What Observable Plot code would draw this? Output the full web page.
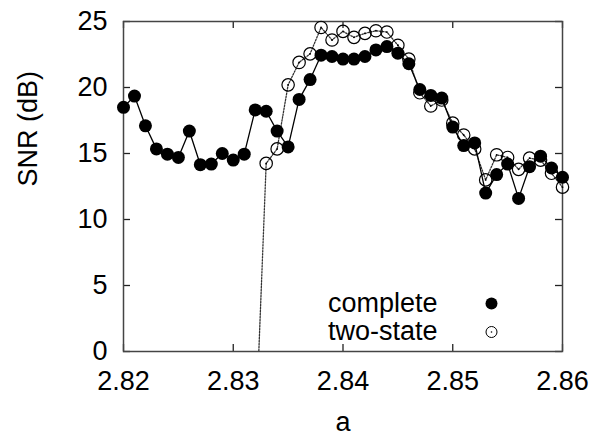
<!DOCTYPE html>
<html><head><meta charset="utf-8">
<script src="https://cdn.jsdelivr.net/npm/d3@7"></script>
<script src="https://cdn.jsdelivr.net/npm/@observablehq/plot@0.6"></script>
<style>body{margin:0;background:#fff}</style>
</head><body><div id="chart"></div>
<script>
const aComplete = [2.820,2.821,2.822,2.823,2.824,2.825,2.826,2.827,2.828,2.829,2.830,2.831,2.832,2.833,2.834,2.835,2.836,2.837,2.838,2.839,2.840,2.841,2.842,2.843,2.844,2.845,2.846,2.847,2.848,2.849,2.850,2.851,2.852,2.853,2.854,2.855,2.856,2.857,2.858,2.859,2.860];
const snrComplete = [18.5,19.35,17.1,15.35,14.95,14.7,16.7,14.15,14.2,15.0,14.5,14.95,18.3,18.2,16.7,15.5,19.1,20.6,22.45,22.35,22.15,22.15,22.35,22.85,23.1,22.6,21.8,19.85,19.4,19.2,17.0,15.6,15.8,12.0,13.4,14.2,11.6,14.0,14.8,13.9,13.2];
const aTwoState = [2.832,2.833,2.834,2.835,2.836,2.837,2.838,2.839,2.840,2.841,2.842,2.843,2.844,2.845,2.846,2.847,2.848,2.849,2.850,2.851,2.852,2.853,2.854,2.855,2.856,2.857,2.858,2.859,2.860];
const snrTwoState = [-7,14.25,15.35,20.2,21.9,22.55,24.55,23.6,24.25,23.8,24.1,24.3,24.2,23.2,22.15,19.6,18.6,19.05,17.3,16.4,15.35,13.0,14.9,14.7,13.8,14.65,14.5,13.5,12.45];
const xTicks = [2.82,2.83,2.84,2.85,2.86];
const yTicks = [0,5,10,15,20,25];
const seriesNames = ["complete","two-state"];

const complete = aComplete.map((a,i)=>({a, snr: snrComplete[i]}));
const twoState = aTwoState.map((a,i)=>({a, snr: snrTwoState[i]}));
const twoStateVisible = twoState.filter(d => d.snr >= 0);

const font = "'Liberation Sans', Arial, sans-serif";
const fs = 27;
const W = 595, H = 439, mL = 123, mR = 33, mT = 21, mB = 88;
const pw = W - mL - mR, ph = H - mT - mB, tk = 7;

const chart = Plot.plot({
  width: W, height: H,
  marginLeft: mL, marginRight: mR, marginTop: mT, marginBottom: mB,
  style: {fontFamily: font, fontSize: fs + "px", color: "#000", background: "#fff"},
  x: {domain: [2.82, 2.86]},
  y: {domain: [0, 25]},
  marks: [
    Plot.axisX({anchor: "bottom", ticks: xTicks, tickFormat: d3.format(".2f"), tickSize: 0, tickPadding: 19, label: null, fontSize: fs}),
    Plot.axisY({anchor: "left", ticks: yTicks, tickSize: 0, tickPadding: 16, label: null, fontSize: fs}),
    // inward mirrored ticks
    Plot.tickX(xTicks, {x: d => d, insetTop: ph - tk, stroke: "#222", strokeWidth: 1.3}),
    Plot.tickX(xTicks, {x: d => d, insetBottom: ph - tk, stroke: "#222", strokeWidth: 1.3}),
    Plot.tickY(yTicks, {y: d => d, insetRight: pw - tk, stroke: "#222", strokeWidth: 1.3}),
    Plot.tickY(yTicks, {y: d => d, insetLeft: pw - tk, stroke: "#222", strokeWidth: 1.3}),
    Plot.frame({stroke: "#444", strokeWidth: 1.5}),
    Plot.line(twoState, {x: "a", y: "snr", stroke: "#333", strokeWidth: 1.3, strokeDasharray: "1.5,1.5", clip: true}),
    Plot.line(complete, {x: "a", y: "snr", stroke: "#000", strokeWidth: 1.3}),
    Plot.dot(complete, {x: "a", y: "snr", r: 6.5, fill: "#000", stroke: "none"}),
    Plot.dot(twoStateVisible, {x: "a", y: "snr", r: 6.2, fill: "none", stroke: "#000", strokeWidth: 1.2}),
    Plot.dot(twoStateVisible, {x: "a", y: "snr", r: 0.9, fill: "#000"}),
    // axis titles
    Plot.text(["SNR (dB)"], {frameAnchor: "left", dx: -95, rotate: -90, lineAnchor: "middle", fontSize: fs, fill: "#000"}),
    Plot.text(["a"], {frameAnchor: "bottom", dy: 71, lineAnchor: "middle", fontSize: fs, fill: "#000"}),
    // legend
    Plot.text([seriesNames[0]], {frameAnchor: "bottom-right", dx: -125, dy: -48, textAnchor: "end", lineAnchor: "middle", fontSize: fs, fill: "#000"}),
    Plot.text([seriesNames[1]], {frameAnchor: "bottom-right", dx: -125, dy: -20.5, textAnchor: "end", lineAnchor: "middle", fontSize: fs, fill: "#000"}),
    Plot.dot([seriesNames[0]], {frameAnchor: "bottom-right", dx: -71, dy: -48, r: 6, fill: "#000"}),
    Plot.dot([seriesNames[1]], {frameAnchor: "bottom-right", dx: -71, dy: -19.5, r: 5.5, fill: "none", stroke: "#000", strokeWidth: 1}),
    Plot.dot([seriesNames[1]], {frameAnchor: "bottom-right", dx: -71, dy: -19.5, r: 0.8, fill: "#000"})
  ]
});
document.getElementById("chart").appendChild(chart);
</script>
</body></html>
